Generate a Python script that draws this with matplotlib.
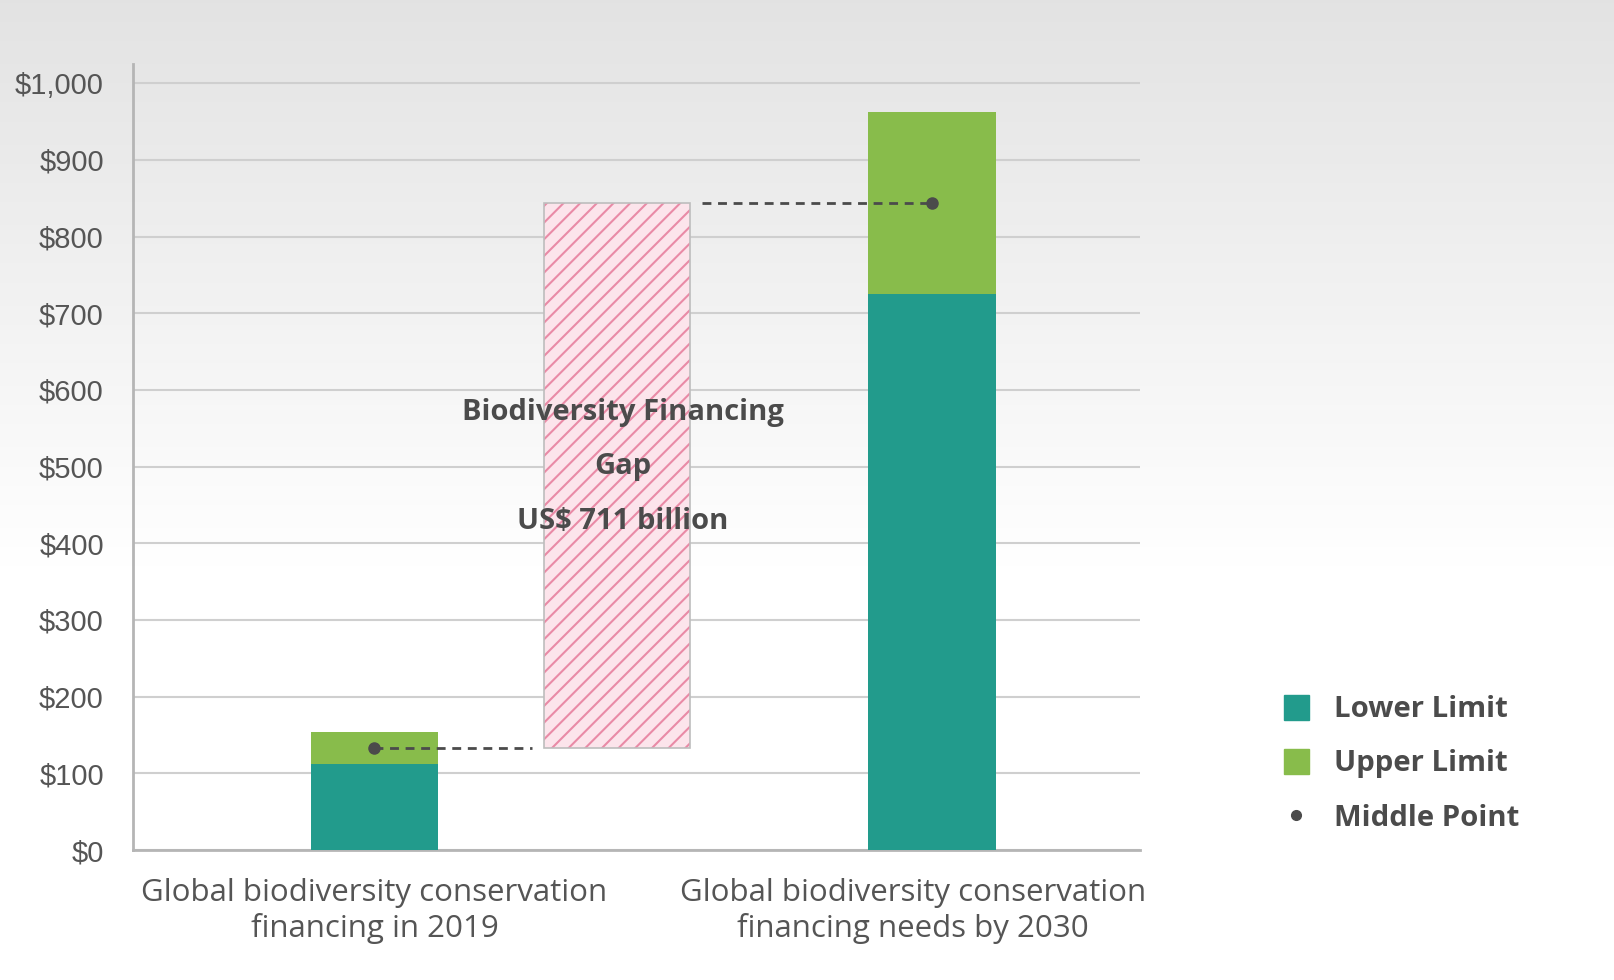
import numpy as np
import matplotlib.pyplot as plt
import matplotlib.transforms as mtransforms
from matplotlib.lines import Line2D

categories = ["Global biodiversity conservation\nfinancing in 2019",
              "Global biodiversity conservation\nfinancing needs by 2030"]
lower = [112, 725]
upper = [154, 963]
yticks = [0, 100, 200, 300, 400, 500, 600, 700, 800, 900, 1000]
gap_lines = ["Biodiversity Financing", "Gap", "US$ {:d} billion"]

teal = "#229b8c"
green = "#88bc4b"
dark = "#4b4b4b"
text_col = "#555555"

mid = [(lo + up) / 2 for lo, up in zip(lower, upper)]
gap = mid[1] - mid[0]

fig = plt.figure(figsize=(16.14, 9.8), dpi=100)

# background gradient
bg = fig.add_axes([0, 0, 1, 1], zorder=-10)
grad = np.clip(np.linspace(0.89, 1.08, 256), 0, 1)
img = np.repeat(grad[:, None], 2, axis=1)
bg.imshow(np.dstack([img, img, img]), aspect="auto", extent=[0, 1, 0, 1], origin="upper")
bg.axis("off")

ax = fig.add_axes([133 / 1614, 130 / 980, 1007 / 1614, 786 / 980])
ax.set_facecolor("none")

x = np.arange(len(categories))
w = 0.228
ax.bar(x, lower, width=w, color=teal, zorder=3)
ax.bar(x, [u - l for l, u in zip(lower, upper)], bottom=lower, width=w, color=green, zorder=3)

# gap box: pink hatch, then grey outline
plt.rcParams["hatch.linewidth"] = 1.5
gx = 0.435
gw = 0.262
ax.bar(gx, gap, bottom=mid[0], width=gw, color="#fce4eb", edgecolor="#e98aa6",
       hatch="//", linewidth=0, zorder=3)
ax.bar(gx, gap, bottom=mid[0], width=gw, fill=False, edgecolor="#bdbdbd",
       linewidth=1.2, zorder=3)

# middle points and dashed connectors
ax.plot(x, mid, "o", color=dark, markersize=8, zorder=5)
ax.plot([x[0], gx - gw / 2 - 0.022], [mid[0], mid[0]], color=dark, lw=2,
        dashes=(3.2, 2.4), zorder=4)
ax.plot([gx + gw / 2 + 0.021, x[1]], [mid[1], mid[1]], color=dark, lw=2,
        dashes=(3.2, 2.4), zorder=4)

for txt, ty in zip(gap_lines, [571, 500, 429]):
    ax.text(gx + 0.01, ty, txt.format(round(gap)), ha="center", va="center",
            fontsize=21, fontweight="bold", family="Open Sans", color=dark, zorder=6)

ax.set_xlim(-0.433, 1.373)
ax.set_ylim(0, 1025)
ax.set_yticks(yticks)
ax.set_yticklabels(["${:,}".format(v) for v in yticks])
ax.set_xticks(x)
ax.set_xticklabels(categories, linespacing=1.2)
ax.yaxis.grid(True, color="#cfcfcf", lw=1.5, zorder=0)
ax.tick_params(axis="both", length=0, colors=text_col)
ax.tick_params(axis="y", pad=21, labelsize=21)
ax.tick_params(axis="x", pad=20, labelsize=22.5)
for lab in ax.get_yticklabels():
    lab.set_family("Liberation Sans")
for lab in ax.get_xticklabels():
    lab.set_family("Open Sans")
# second category label sits a little left of its bar
lab2 = ax.get_xticklabels()[1]
lab2.set_transform(lab2.get_transform() + mtransforms.ScaledTranslation(-0.19, 0, fig.dpi_scale_trans))
for s in ["top", "right"]:
    ax.spines[s].set_visible(False)
for s in ["left", "bottom"]:
    ax.spines[s].set_color("#b5b5b5")
    ax.spines[s].set_linewidth(2)

handles = [
    Line2D([], [], ls="none", marker="s", markersize=18, color=teal),
    Line2D([], [], ls="none", marker="s", markersize=18, color=green),
    Line2D([], [], ls="none", marker="o", markersize=7, color=dark),
]
leg = fig.legend(handles, ["Lower Limit", "Upper Limit", "Middle Point"],
                 loc="center left", bbox_to_anchor=(1281 / 1614, 216 / 980),
                 frameon=False, borderpad=0, borderaxespad=0, handlelength=1.0,
                 handletextpad=0.8, labelspacing=0.85,
                 prop={"family": "Open Sans", "weight": "bold", "size": 21.2})
for t in leg.get_texts():
    t.set_color(dark)

fig.savefig("out.png", dpi=100)
